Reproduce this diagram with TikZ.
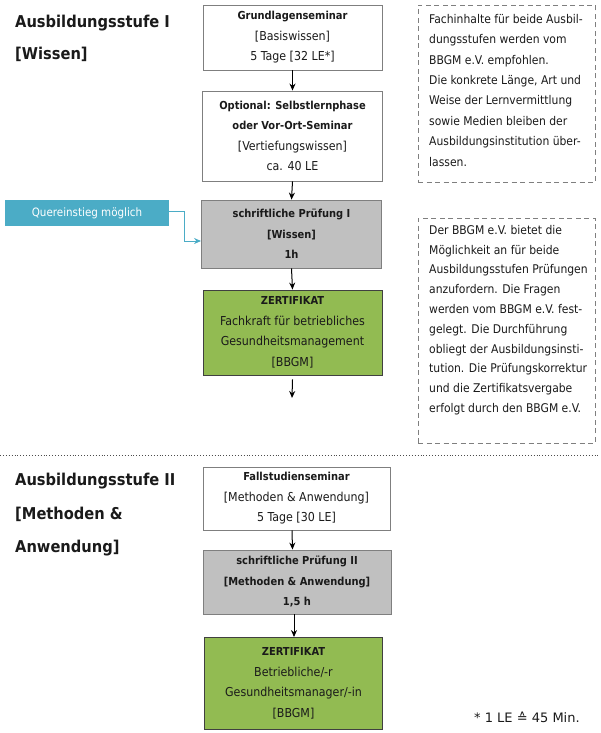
\documentclass[tikz,border=0pt]{standalone}
\usepackage{fontspec}
\setmainfont{DejaVu Sans Condensed}
\newfontfamily\dvsfont{DejaVu Sans}
\usetikzlibrary{arrows.meta,calc,fit}
\definecolor{boxborder}{HTML}{7F7F7F}
\definecolor{boxgray}{HTML}{C0C0C0}
\definecolor{boxgreen}{HTML}{92BB52}
\definecolor{quercol}{HTML}{4BACC6}
\definecolor{txt}{HTML}{1A1A1A}
\newcommand\boxfont{\fontsize{12.3}{20.5}\selectfont}
\newcommand\bx[1]{{\fontsize{11}{20.5}\selectfont\bfseries #1}}
\newcommand\notefont{\fontsize{12}{20.4}\selectfont}
\newcommand\titlefont{\fontsize{16.3}{32}\selectfont\bfseries}
\tikzset{
  base/.style={draw=boxborder, line width=0.9pt, align=center, font=\boxfont, text=txt, inner sep=0pt},
  whitebox/.style={base, fill=white},
  graybox/.style={base, fill=boxgray},
  greenbox/.style={base, fill=boxgreen, draw=black!75},
  flow/.style={-{Stealth[length=7pt,width=6pt]}, line width=1pt, draw=black},
  querline/.style={-{Stealth[length=7pt,width=6pt]}, line width=1pt, draw=quercol},
  notebox/.style={draw=boxborder, dash pattern=on 5pt off 3.5pt, line width=0.9pt, inner sep=0pt},
  notetext/.style={anchor=north west, align=left, font=\notefont, text=txt, inner sep=0pt},
  titletext/.style={anchor=north west, align=left, font=\titlefont, text=txt, inner sep=0pt},
}
\begin{document}
\begin{tikzpicture}[x=1pt,y=-1pt]
\useasboundingbox (0,0) rectangle (600,733);

% titles
\node[titletext] (t1) at (15,15) {Ausbildungsstufe I\\{}[Wissen]};
\node[titletext, font=\fontsize{16.3}{33.5}\selectfont\bfseries] (t2) at (15,473) {Ausbildungsstufe II\\{}[Methoden \&\\Anwendung]};

% stage I boxes
\node[whitebox, minimum width=179, minimum height=65] (b1) at (292.5,37.5)
  {\bx{Grundlagenseminar}\\{}[Basiswissen]\\5 Tage [32 LE*]};
\node[whitebox, minimum width=180, minimum height=90] (b2) at (292.5,136)
  {\bx{Optional: Selbstlernphase}\\\bx{oder Vor-Ort-Seminar}\\{}[Vertiefungswissen]\\ca. 40 LE};
\node[graybox, minimum width=180, minimum height=68] (b3) at (291.5,234)
  {\bx{schriftliche Prüfung I}\\\bx{[Wissen]}\\\bx{1h}};
\node[greenbox, minimum width=179, minimum height=85] (b4) at (292.5,332.5)
  {\bx{ZERTIFIKAT}\\Fachkraft für betriebliches\\Gesundheitsmanagement\\{}[BBGM]};
\coordinate (end1) at (292,398);

\node[fill=quercol, text=white, font=\fontsize{11.5}{14}\selectfont, minimum width=164, minimum height=26, inner sep=0pt] (quer) at (87,213) {Quereinstieg möglich};

\draw[flow] (b1.south) -- (b2.north);
\draw[flow] (b2.south) -- (b3.north);
\draw[flow] (b3.south) -- (b4.north);
\draw[flow] ([yshift=-4pt]b4.south) -- (end1);
\draw[querline] ([yshift=2pt]quer.east) -- ++(15,0) |- ($(b3.west)+(0,7)$);

% notes
\node[notebox, fit={(418,5) (595,182)}] (n1box) {};
\node[notetext] (n1) at (429,14) {Fachinhalte für beide Ausbil-\\dungsstufen werden vom\\BBGM e.V. empfohlen.\\Die konkrete Länge, Art und\\Weise der Lernvermittlung\\sowie Medien bleiben der\\Ausbildungsinstitution über-\\lassen.};
\node[notebox, fit={(418,218) (595,443)}] (n2box) {};
\node[notetext, font=\fontsize{12}{19.8}\selectfont] (n2) at (429,225) {Der BBGM e.V. bietet die\\Möglichkeit an für beide\\Ausbildungsstufen Prüfungen\\anzufordern. Die Fragen\\werden vom BBGM e.V. fest-\\gelegt. Die Durchführung\\obliegt der Ausbildungsinsti-\\tution. Die Prüfungskorrektur\\und die Zertifikatsvergabe\\erfolgt durch den BBGM e.V.};

% separator
\coordinate (sepL) at (0,455);
\coordinate (sepR) at (600,455);
\draw[black!70, dotted, line width=0.9pt] (sepL) -- (sepR);

% stage II boxes
\node[whitebox, minimum width=187, minimum height=63] (b5) at (296.5,498.5)
  {\bx{Fallstudienseminar}\\{}[Methoden \& Anwendung]\\5 Tage [30 LE]};
\node[graybox, minimum width=188, minimum height=64] (b6) at (297,582)
  {\bx{schriftliche Prüfung II}\\\bx{[Methoden \& Anwendung]}\\\bx{1,5 h}};
\node[greenbox, minimum width=178, minimum height=92] (b7) at (293.5,683.5)
  {\bx{ZERTIFIKAT}\\Betriebliche/-r\\Gesundheitsmanager/-in\\{}[BBGM]};
\draw[flow] ([xshift=-4.5pt]b5.south) -- ([xshift=-4.5pt]b6.north);
\draw[flow] ([xshift=-3pt]b6.south) -- ([xshift=-3pt]b6.south |- b7.north);

\node[anchor=base west, font=\dvsfont\fontsize{13}{15}\selectfont, text=txt, inner sep=0pt] (foot) at (474,722) {* 1 LE ≙ 45 Min.};
\end{tikzpicture}
\end{document}
